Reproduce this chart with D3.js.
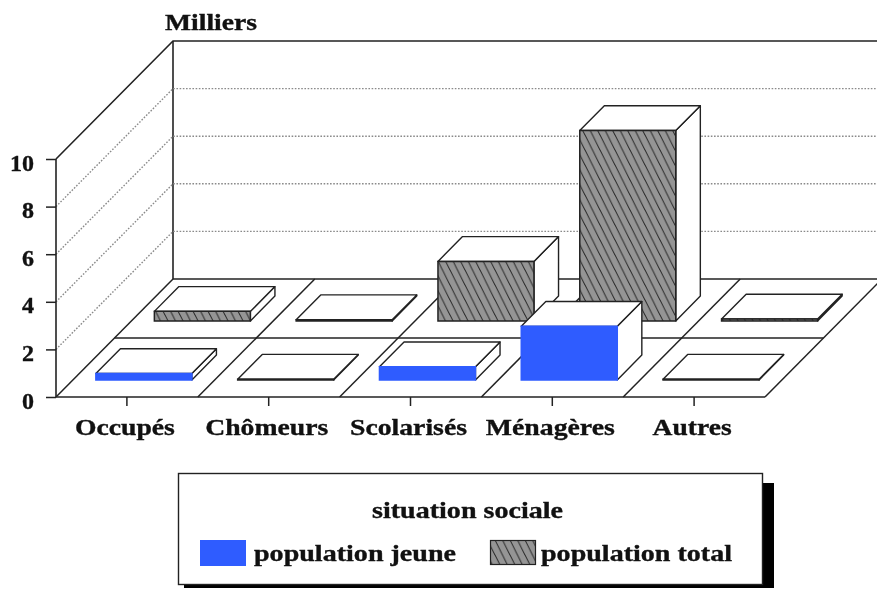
<!DOCTYPE html>
<html><head><meta charset="utf-8">
<script src="https://cdnjs.cloudflare.com/ajax/libs/d3/7.8.5/d3.min.js"></script>
<style>
html,body{margin:0;padding:0;background:#fff}
svg{display:block;filter:blur(0.55px)}
text{font-family:"Liberation Serif",serif;font-weight:bold;fill:#111;stroke:#111;stroke-width:0.35px}
</style></head><body>
<script>
const categories = ["Occupés","Chômeurs","Scolarisés","Ménagères","Autres"];
const jeune = [0.27,0.03,0.55,2.25,0.03];
const total = [0.4,0.05,2.5,8.0,0.08];
const yTicks = [0,2,4,6,8,10];
const rowsOrder = ["population total","population jeune"];
const labelWidths = [100,123,117,129,79];
const tickWidths = {0:12,2:12,4:12,6:12,8:12,10:24};

const W=877,H=589;
const svg=d3.select("body").append("svg").attr("width",W).attr("height",H);
const defs=svg.append("defs");
const pat=defs.append("pattern").attr("id","hatch").attr("patternUnits","userSpaceOnUse").attr("width",7.5).attr("height",15);
pat.append("rect").attr("width",7.5).attr("height",15).attr("fill","#959595");
pat.append("path").attr("d","M-1,-2L8.5,17M-8.5,-2L1,17M6.5,-2L16,17").attr("stroke","#262626").attr("stroke-width",1).attr("fill","none");

const x=d3.scaleBand().domain(categories).range([56,765]).paddingInner(0.323).paddingOuter(0.1615);
const y=d3.scaleLinear().domain([0,10]).range([397,159]);
const depth=d3.scaleLinear().domain([0,2]).range([0,118]);   // floor depth, in rows
const slant=117/118;
// project (x at floor front, value, depth in rows) to the screen
const P=(px,v,d)=>[px+depth(d)*slant, y(v)-depth(d)];
const line=d3.line();
const INK="#222";
const floorX=[0,1,2,3,4,5].map(i=>56+i*x.step());

// walls
const g=svg.append("g");
g.append("path").attr("d",line([P(56,10,0),P(56,10,2),[W+5,P(56,10,2)[1]]])).attr("fill","none").attr("stroke",INK).attr("stroke-width",1.6);
g.append("path").attr("d",line([P(56,10,2),P(56,0,2)])).attr("stroke",INK).attr("stroke-width",1.6);
yTicks.filter(t=>t>0&&t<10).forEach(t=>{
  g.append("path").attr("d",line([P(56,t,0),P(56,t,2),[W+5,P(56,t,2)[1]]])).attr("fill","none")
   .attr("stroke","#8a8a8a").attr("stroke-width",1.4).attr("stroke-dasharray","1.6 1.6");
});

// floor
g.append("path").attr("d",line([P(56,0,0),P(765,0,0),P(765,0,2),P(56,0,2)])+"Z").attr("fill","#fff").attr("stroke","none");
[[0],[1],[2]].forEach(([r])=>{
  g.append("path").attr("d",line([P(56,0,r),r===2?[W+5,P(56,0,2)[1]]:P(765,0,r)])).attr("stroke",INK).attr("stroke-width",1.6);
});
floorX.forEach(fx=>{
  g.append("path").attr("d",line([P(fx,0,0),P(fx,0,2)])).attr("stroke",INK).attr("stroke-width",1.5);
});

// axes
const yAxis=svg.append("g").attr("transform","translate(56,0)").call(d3.axisLeft(y).tickValues(yTicks).tickSize(10).tickPadding(12));
yAxis.select(".domain").attr("stroke",INK).attr("stroke-width",1.6).attr("d","M0,159V397");
yAxis.selectAll(".tick line").attr("stroke",INK).attr("stroke-width",1.5);
yAxis.selectAll("text").style("font-size","23px").attr("font-family",null)
  .attr("textLength",d=>tickWidths[d]).attr("lengthAdjust","spacingAndGlyphs").attr("dy","0.48em");
const xAxis=svg.append("g").attr("transform","translate(0,397)").call(d3.axisBottom(x).tickSize(9).tickPadding(14));
xAxis.select(".domain").remove();
xAxis.selectAll(".tick line").attr("stroke",INK).attr("stroke-width",1.5);
xAxis.selectAll("text").style("font-size","23px").attr("dy","0.66em").attr("dx",-2)
  .attr("textLength",(d,i)=>labelWidths[i]).attr("lengthAdjust","spacingAndGlyphs");
yAxis.attr("font-family",null);xAxis.attr("font-family",null);

// bars
const D0=0.29,D1=0.71;
function bar(cat,v,row,fill,stroke){
  const l=x(cat),r=l+x.bandwidth(),d0=row+D0,d1=row+D1;
  const b=svg.append("g");
  b.append("path").attr("d",line([P(r,0,d0),P(r,0,d1),P(r,v,d1),P(r,v,d0)])+"Z").attr("fill","#fff").attr("stroke",INK).attr("stroke-width",1.4).attr("stroke-linejoin","round");
  b.append("path").attr("d",line([P(l,v,d0),P(l,v,d1),P(r,v,d1),P(r,v,d0)])+"Z").attr("fill","#fff").attr("stroke",INK).attr("stroke-width",1.4).attr("stroke-linejoin","round");
  b.append("path").attr("d",line([P(l,0,d0),P(r,0,d0),P(r,v,d0),P(l,v,d0)])+"Z").attr("fill",fill).attr("stroke",stroke).attr("stroke-width",1.5);
}
categories.forEach((c,i)=>bar(c,total[i],1,"url(#hatch)",INK));
categories.forEach((c,i)=>bar(c,jeune[i],0,"#2f5cff",jeune[i]<0.1?INK:"#2f5cff"));

// title
const T=(s,xx,yy,w,fs=23)=>svg.append("text").attr("x",xx).attr("y",yy).attr("textLength",w).attr("lengthAdjust","spacingAndGlyphs").style("font-size",fs+"px").text(s);
T("Milliers",165,29.5,92);

// legend
const lg=svg.append("g");
lg.append("rect").attr("x",184).attr("y",483).attr("width",590).attr("height",105).attr("fill","#000");
lg.append("rect").attr("x",178.5).attr("y",473.5).attr("width",584).attr("height",111).attr("fill","#fff").attr("stroke",INK).attr("stroke-width",1.4);
T("situation sociale",372,518,191);
lg.append("rect").attr("x",200).attr("y",540).attr("width",46).attr("height",26).attr("fill","#2f5cff");
T(rowsOrder[1],254,561,202);
lg.append("rect").attr("x",490.5).attr("y",540.5).attr("width",45).attr("height",24).attr("fill","url(#hatch)").attr("stroke",INK).attr("stroke-width",1.2);
T(rowsOrder[0],541,561,191);
</script>
</body></html>
